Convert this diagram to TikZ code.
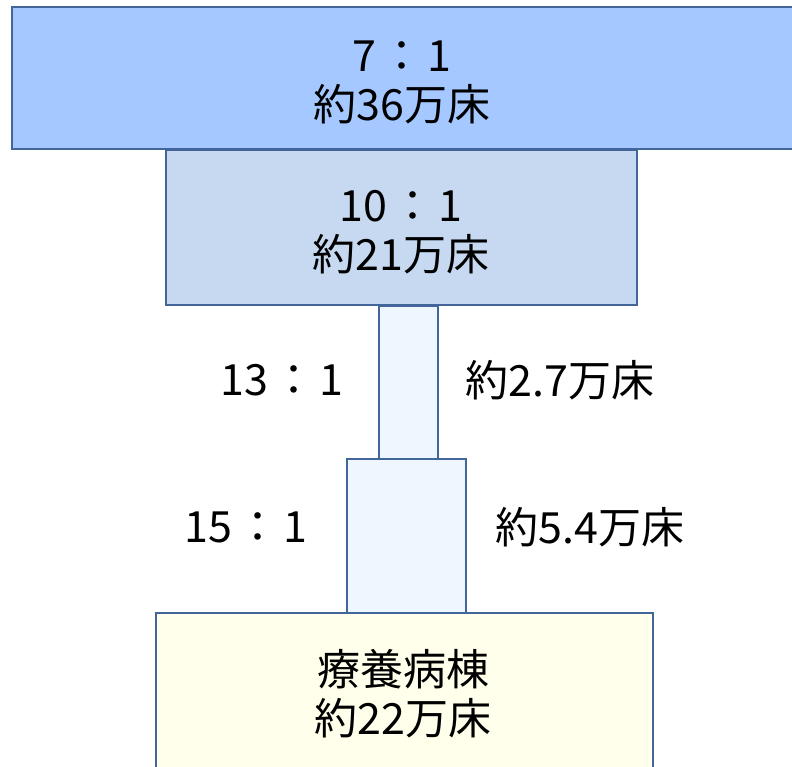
\documentclass[tikz,border=0pt]{standalone}
\usepackage{fontspec}
\setmainfont{Noto Sans CJK JP}
\newcommand{\rcolon}{\hspace{4pt}：\hspace{4pt}}
\begin{document}
\begin{tikzpicture}[x=1pt,y=-1pt,
  bar/.style={draw=edgeblue, line width=1.6pt, inner sep=0pt, anchor=north west},
  lbl/.style={font=\fontsize{43}{49}\selectfont, align=center, inner sep=0pt},
  ]
\definecolor{edgeblue}{HTML}{42659A}
\definecolor{topfill}{HTML}{A4C8FF}
\definecolor{secfill}{HTML}{C6D9F0}
\definecolor{thinfill}{HTML}{EEF6FF}
\definecolor{botfill}{HTML}{FFFFEB}
\path[use as bounding box] (0,0) rectangle (792,766);
\clip (0,0) rectangle (792,766);
\node[bar, fill=topfill, minimum width=800pt, minimum height=142pt] (b1) at (11,6) {};
\node[bar, fill=secfill, minimum width=471pt, minimum height=155pt] (b2) at (165,149) {};
\node[bar, fill=thinfill, minimum width=59pt, minimum height=153pt] (b3) at (378,305) {};
\node[bar, fill=thinfill, minimum width=119pt, minimum height=154pt] (b4) at (346,458) {};
\node[bar, fill=botfill, minimum width=497pt, minimum height=170pt] (b5) at (155,612) {};
\node[lbl] (t1) at (402,82) {7\rcolon1\\約36万床};
\node[lbl] (t2) at (401,232) {10\rcolon1\\約21万床};
\node[lbl] (t3) at (282,380) {13\rcolon1};
\node[lbl] (t4) at (560,380) {約2.7万床};
\node[lbl] (t5) at (246,527) {15\rcolon1};
\node[lbl] (t6) at (590,527) {約5.4万床};
\node[lbl] (t7) at (403,694) {療養病棟\\約22万床};
\end{tikzpicture}
\end{document}
